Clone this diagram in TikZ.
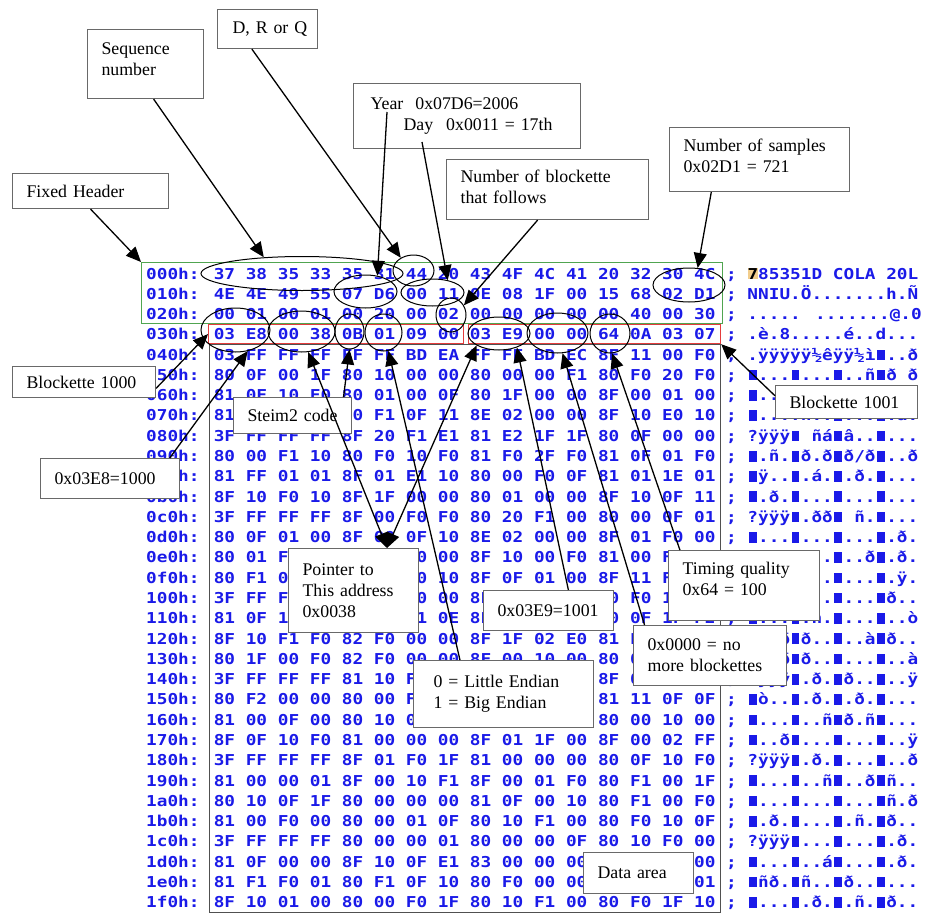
\documentclass[tikz,border=0pt]{standalone}
\usepackage{fontspec}
\usepackage{newunicodechar}
\usepackage{xcolor}
\usepackage{tikz}
\usetikzlibrary{shapes.geometric, arrows.meta, positioning}
\newfontfamily\hexfont{DejaVu Sans Mono Bold}[FakeStretch=1.182]
\newfontfamily\notefont{Liberation Serif}
\definecolor{hexblue}{RGB}{26,26,232}
\definecolor{hdrgreen}{RGB}{80,165,80}
\definecolor{blkred}{RGB}{228,60,60}
\definecolor{datagray}{RGB}{80,80,80}
\definecolor{notegray}{RGB}{105,105,105}
\definecolor{cursor}{RGB}{242,205,140}
\newcommand\curs[1]{{\setlength\fboxsep{0pt}\colorbox{cursor}{\color{black}#1}}}
\newcommand\lift[1]{\\[#1]\mbox{}}
\newcommand\blk{{\setbox0\hbox{0}\hbox to \wd0{\hss\rule{0.72\wd0}{10.6pt}\hss}}}
\newunicodechar{■}{\blk}

\begin{document}
\begin{tikzpicture}[x=1pt, y=-1pt,
    hexrow/.style={anchor=base west, inner sep=0pt, text=hexblue,
                   font=\hexfont\fontsize{15}{17}\selectfont},
    frame/.style={draw, line width=1.2pt, anchor=north west, inner sep=0pt},
    ring/.style={draw, ellipse, line width=1pt, inner sep=0pt},
    note/.style={draw=notegray, line width=1.1pt, fill=white, anchor=north west,
                 align=left, inner xsep=14pt, inner ysep=2pt,
                 font=\notefont\fontsize{17.8}{21}\selectfont},
    arr/.style={line width=1.3pt, -{Triangle[length=15pt, width=13pt]}},
    arrboth/.style={line width=1.3pt, {Triangle[length=15pt, width=13pt]}-{Triangle[length=15pt, width=13pt]}}
]
\fill[white] (0,0) rectangle (929,913);
\useasboundingbox (0,0) rectangle (929,913);

\foreach \adr/\hx/\asc [count=\i from 0] in {
  000h/37 38 35 33 35 31 44 20 43 4F 4C 41 20 32 30 4C/{\curs{7}85351D COLA 20L},
  010h/4E 4E 49 55 07 D6 00 11 0E 08 1F 00 15 68 02 D1/{NNIU.Ö.......h.Ñ},
  020h/00 01 00 01 00 20 00 02 00 00 00 00 00 40 00 30/{..... .......@.0},
  030h/03 E8 00 38 0B 01 09 00 03 E9 00 00 64 0A 03 07/{.è.8.....é..d...},
  040h/03 FF FF FF FF FF BD EA FF FF BD EC 8F 11 00 F0/{.ÿÿÿÿÿ½êÿÿ½ì■..ð},
  050h/80 0F 00 1F 80 10 00 00 80 00 00 F1 80 F0 20 F0/{■...■...■..ñ■ð ð},
  060h/81 0F 10 F0 80 01 00 0F 80 1F 00 00 8F 00 01 00/{■..ð■...■...■...},
  070h/81 00 00 00 10 F1 0F 11 8E 02 00 00 8F 10 E0 10/{■....ñ..■...■.à.},
  080h/3F FF FF FF 8F 20 F1 E1 81 E2 1F 1F 80 0F 00 00/{?ÿÿÿ■ ñá■â..■...},
  090h/80 00 F1 10 80 F0 10 F0 81 F0 2F F0 81 0F 01 F0/{■.ñ.■ð.ð■ð/ð■..ð},
  0a0h/81 FF 01 01 8F 01 E1 10 80 00 F0 0F 81 01 1E 01/{■ÿ..■.á.■.ð.■...},
  0b0h/8F 10 F0 10 8F 1F 00 00 80 01 00 00 8F 10 0F 11/{■.ð.■...■...■...},
  0c0h/3F FF FF FF 8F 00 F0 F0 80 20 F1 00 80 00 0F 01/{?ÿÿÿ■.ðð■ ñ.■...},
  0d0h/80 0F 01 00 8F 00 0F 10 8E 02 00 00 8F 01 F0 00/{■...■...■...■.ð.},
  0e0h/80 01 F1 00 80 00 10 00 8F 10 00 F0 81 00 F0 00/{■.ñ.■...■..ð■.ð.},
  0f0h/80 F1 01 00 80 00 10 10 8F 0F 01 00 8F 11 FF 00/{■ñ..■...■...■.ÿ.},
  100h/3F FF FF FF 81 00 10 00 8F 00 00 01 80 F0 10 00/{?ÿÿÿ■...■...■ð..},
  110h/81 0F 10 00 80 00 F1 0E 8F 00 00 00 80 0F 1F F2/{■...■.ñ.■...■..ò},
  120h/8F 10 F1 F0 82 F0 00 00 8F 1F 02 E0 81 F0 00 00/{■.ñð■ð..■..à■ð..},
  130h/80 1F 00 F0 82 F0 00 00 8F 00 10 00 80 00 00 E0/{■..ð■ð..■...■..à},
  140h/3F FF FF FF 81 10 F0 00 80 F0 00 00 8F 00 00 FF/{?ÿÿÿ■.ð.■ð..■..ÿ},
  150h/80 F2 00 00 80 00 F0 00 80 00 F0 00 81 11 0F 0F/{■ò..■.ð.■.ð.■...},
  160h/81 00 0F 00 80 10 00 F1 80 F0 00 F1 80 00 10 00/{■...■..ñ■ð.ñ■...},
  170h/8F 0F 10 F0 81 00 00 00 8F 01 1F 00 8F 00 02 FF/{■..ð■...■...■..ÿ},
  180h/3F FF FF FF 8F 01 F0 1F 81 00 00 00 80 0F 10 F0/{?ÿÿÿ■.ð.■...■..ð},
  190h/81 00 00 01 8F 00 10 F1 8F 00 01 F0 80 F1 00 1F/{■...■..ñ■..ð■ñ..},
  1a0h/80 10 0F 1F 80 00 00 00 81 0F 00 10 80 F1 00 F0/{■...■...■...■ñ.ð},
  1b0h/81 00 F0 00 80 00 01 0F 80 10 F1 00 80 F0 10 0F/{■.ð.■...■.ñ.■ð..},
  1c0h/3F FF FF FF 80 00 00 01 80 00 00 0F 80 10 F0 00/{?ÿÿÿ■...■...■.ð.},
  1d0h/81 0F 00 00 8F 10 0F E1 83 00 00 00 80 00 F0 00/{■...■..á■...■.ð.},
  1e0h/81 F1 F0 01 80 F1 0F 10 80 F0 00 00 80 00 00 01/{■ñð.■ñ..■ð..■...},
  1f0h/8F 10 01 00 80 00 F0 1F 80 10 F1 00 80 F0 1F 10/{■...■.ð.■.ñ.■ð..}}
  \node[hexrow] (row\i) at (146, {279+20.28*\i}) {\adr: \hx\ ; \asc};

\node[frame, draw=hdrgreen, minimum width=581pt, minimum height=61pt] (hdrbox) at (141,262) {};
\node[frame, draw=blkred, minimum width=255pt, minimum height=19pt] (redA) at (208,324) {};
\node[frame, draw=blkred, minimum width=252pt, minimum height=19pt] (redB) at (468,324) {};
\node[frame, draw=datagray, minimum width=511pt, minimum height=568pt] (datarea) at (209,344) {};

\node[ring, minimum width=202pt, minimum height=34pt] (seqell) at (302,273.5) {};
\node[ring, minimum width=41pt, minimum height=31pt] (drqell) at (413.5,270.5) {};
\node[ring, minimum width=63pt, minimum height=33pt] (yearell) at (365.5,291.5) {};
\node[ring, minimum width=63pt, minimum height=27pt] (dayell) at (432.5,292.5) {};
\node[ring, minimum width=30pt, minimum height=34pt] (blkell) at (451,315) {};
\node[ring, minimum width=72pt, minimum height=34pt] (smpell) at (689,285) {};
\node[ring, minimum width=69pt, minimum height=44pt] (e8ell) at (235.5,330) {};
\node[ring, minimum width=67pt, minimum height=41pt] (ell0038) at (301.5,331.5) {};
\node[ring, minimum width=29pt, minimum height=35pt] (ell0B) at (349.5,331.5) {};
\node[ring, minimum width=37pt, minimum height=37pt] (ell01) at (383.5,332.5) {};
\node[ring, minimum width=62pt, minimum height=33pt] (ell03E9) at (499,333.5) {};
\node[ring, minimum width=61pt, minimum height=40pt] (ell0000) at (557.5,333) {};
\node[ring, minimum width=40pt, minimum height=39pt] (ell64) at (610,333.5) {};

\node[note, text width=128pt, minimum height=35pt] (fixhdr) at (12,173) {Fixed Header};
\node[note, text width=88pt, minimum height=69pt] (seqbox) at (87,29) {Sequence\\number\lift{-11pt}};
\node[note, text width=80pt, minimum height=39pt, inner xsep=10pt] (drqbox) at (217,9) {\hspace*{5pt}D, R or Q};
\node[note, text width=174pt, minimum height=60pt] (nblkbox) at (446,159) {Number of blockette\\that follows\lift{-16pt}};
\node[note, text width=152pt, minimum height=64pt] (nsampbox) at (669,127) {Number of samples\\0x02D1 = 721\lift{-13pt}};
\node[note, text width=115pt, minimum height=31pt] (b1000box) at (12,366) {Blockette 1000};
\node[note, text width=114pt, minimum height=33pt] (b1001box) at (775,385) {Blockette 1001};
\node[note, text width=111pt, minimum height=40pt] (e8box) at (40,458) {0x03E8=1000};

\draw[arr] (b1000box.-5) -- (redA.west);
\draw[arr] (e8box.19) -- (e8ell.-60);
\draw[arr] (b1001box.175) -- (redB.south east);

\node[note, text width=90pt, minimum height=36pt] (steimbox) at (233,397) {Steim2 code};

\draw[arrboth] (ell0038.-72) -- (387,548);
\draw[arrboth] (ell03E9.-152) -- (387,548);
\draw[arr] (steimbox.20) -- (ell0B.-90);

\node[note, text width=102pt, minimum height=84pt] (ptrbox) at (288,548) {Pointer to\\This address\\0x0038};
\node[note, text width=102pt, minimum height=40pt] (e9box) at (483,590) {0x03E9=1001};
\node[note, text width=123pt, minimum height=70pt] (timbox) at (668,550) {Timing quality\\0x64 = 100\lift{-7pt}};
\node[note, text width=125pt, minimum height=60pt] (noblkbox) at (633,625) {0x0000 = no\\more blockettes};
\node[note, text width=140pt, minimum height=67pt, inner xsep=20pt] (endbox) at (413,660) {0 = Little Endian\\1 = Big Endian};
\node[note, text width=82pt, minimum height=41pt] (databox) at (583,852) {Data area};
\node[note, text width=193pt, minimum height=65pt, inner xsep=17pt] (yearbox) at (353,83)
  {Year\hspace{12pt}0x07D6=2006\\\hspace*{33pt}Day\hspace{13pt}0x0011 = 17th\lift{-17pt}};

\draw[arr] (fixhdr.south) -- (hdrbox.north west);
\draw[arr] (seqbox.-77) -- (seqell.157);
\draw[arr] (drqbox.-128) -- (drqell.135);
\draw[arr] ([shift={(34,29)}]yearbox.north west) -- (yearell.53);
\draw[arr] ([shift={(69,59)}]yearbox.north west) -- (dayell.39);
\draw[arr] (nblkbox.-108) -- (blkell.37);
\draw[arr] (nsampbox.-146) -- (smpell.63);
\draw[arr] (e9box.46) -- (ell03E9.-38);
\draw[arr] (noblkbox.155) -- (ell0000.-76);
\draw[arr] (timbox.151) -- (ell64.-84);
\draw[arr] (endbox.142) -- (ell01.-75);
\end{tikzpicture}
\end{document}
